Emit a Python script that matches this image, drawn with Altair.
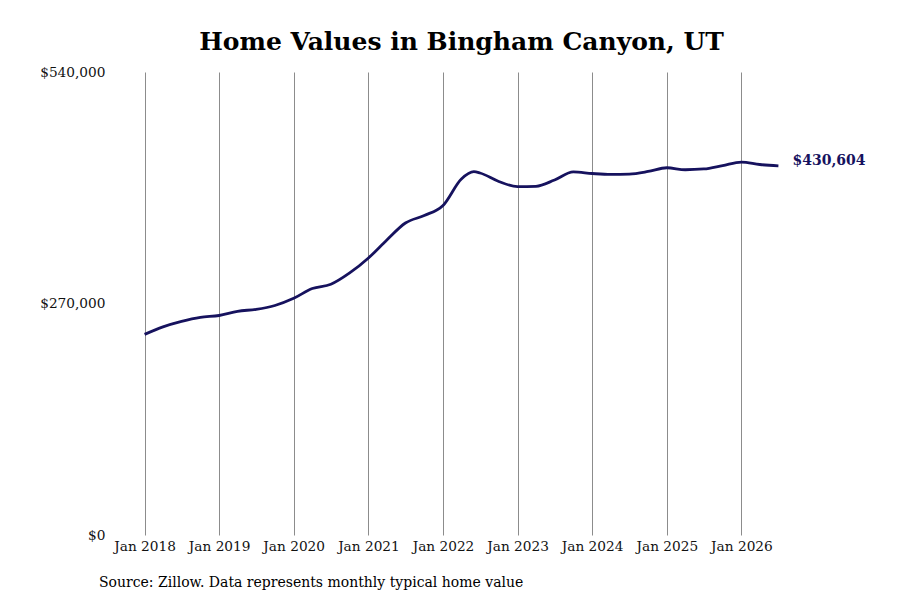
import altair as alt
import pandas as pd

# quarterly typical home value
dates = ['2018-01-01', '2018-04-01', '2018-07-01', '2018-10-01',
         '2019-01-01', '2019-04-01', '2019-07-01', '2019-10-01',
         '2020-01-01', '2020-04-01', '2020-07-01', '2020-10-01',
         '2021-01-01', '2021-04-01', '2021-07-01', '2021-10-01',
         '2022-01-01', '2022-04-01', '2022-06-01', '2022-07-01', '2022-10-01',
         '2023-01-01', '2023-04-01', '2023-07-01', '2023-10-01',
         '2024-01-01', '2024-04-01', '2024-07-01', '2024-10-01',
         '2025-01-01', '2025-04-01', '2025-07-01', '2025-10-01',
         '2026-01-01', '2026-04-01', '2026-07-01']
values = [234000, 242800, 249200, 253900,
          256000, 260900, 263200, 267700,
          276100, 287500, 292400, 305600,
          323100, 344100, 363900, 372600,
          384300, 415200, 423700, 422200, 412300,
          406200, 406700, 414000, 423400,
          421600, 420500, 421000, 424000,
          428300, 426000, 426900, 430900,
          435000, 432100, 430604]

tick_dates = ['2018-01-01', '2019-01-01', '2020-01-01', '2021-01-01', '2022-01-01',
              '2023-01-01', '2024-01-01', '2025-01-01', '2026-01-01']
y_ticks = [0, 270000, 540000]

df = pd.DataFrame({'date': pd.to_datetime(dates), 'value': values})
last = df.tail(1).copy()
last['label'] = '$430,604'

FONT = 'DejaVu Serif'
NAVY = '#16125e'

x_enc = alt.X('date:T', title=None,
              scale=alt.Scale(domain=['2017-07-01', '2027-01-01']),
              axis=alt.Axis(values=[pd.Timestamp(d).isoformat() for d in tick_dates],
                            format='Jan %Y', grid=True, gridColor='#8c8c8c', gridWidth=1,
                            domain=False, ticks=False, labelPadding=4,
                            labelFontSize=13.7, labelFont=FONT, labelColor='#111'))
y_enc = alt.Y('value:Q', title=None,
              scale=alt.Scale(domain=[0, 540000], nice=False),
              axis=alt.Axis(values=y_ticks, format='$,.0f', grid=False, domain=False,
                            ticks=False, labelPadding=2, labelFontSize=13.7,
                            labelFont=FONT, labelColor='#111'))

line = alt.Chart(df).mark_line(color=NAVY, strokeWidth=2.8, interpolate='monotone').encode(
    x=x_enc, y=y_enc)

end_label = alt.Chart(last).mark_text(align='left', dx=14, dy=-5, font=FONT, fontSize=14,
                                      fontWeight='bold', color=NAVY).encode(
    x='date:T', y='value:Q', text='label:N')

source = alt.Chart(last).mark_text(align='left', baseline='middle', font=FONT,
                                   fontSize=14, color='#000').encode(
    x=alt.value(-8), y=alt.value(511),
    text=alt.value('Source: Zillow. Data represents monthly typical home value'))

chart = alt.layer(line, end_label, source).properties(
    width=709, height=463,
    autosize=alt.AutoSizeParams(type='none'),
    padding={'left': 99, 'top': 64, 'right': 76, 'bottom': 57},
    title=alt.Title('Home Values in Bingham Canyon, UT', font=FONT, fontSize=25,
                    fontWeight='bold', color='#000', anchor='middle', offset=10),
    background='white'
).configure_view(stroke=None)

chart.save("out.html", embed_options={"renderer": "svg", "actions": False})
